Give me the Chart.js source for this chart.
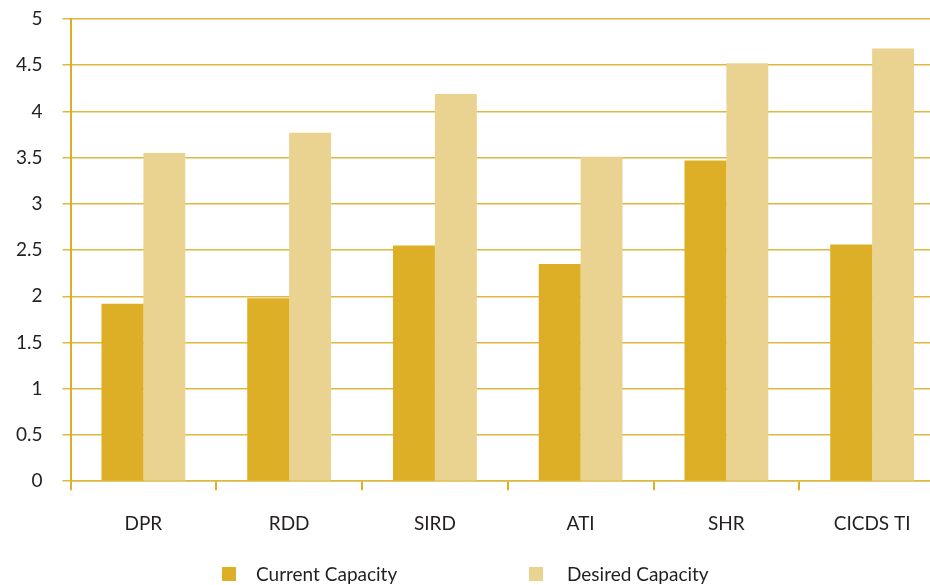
<!DOCTYPE html>
<html>
<head>
<meta charset="utf-8">
<script src="https://cdn.jsdelivr.net/npm/chart.js@4.4.1/dist/chart.umd.min.js"></script>
<style>
  html, body { margin: 0; padding: 0; background: #fff; overflow: hidden; }
  #wrap { width: 960px; height: 600px; }
</style>
</head>
<body>
<div id="wrap"><canvas id="grafico" width="960" height="600"></canvas></div>
<script>
const categorias = ['DPR', 'RDD', 'SIRD', 'ATI', 'SHR', 'CICDS TI'];
const atual = [1.92, 1.98, 2.55, 2.35, 3.47, 2.56];
const desejada = [3.55, 3.77, 4.19, 3.51, 4.52, 4.68];
const nomesSeries = ['Current Capacity', 'Desired Capacity'];
const ticksY = [0, 0.5, 1, 1.5, 2, 2.5, 3, 3.5, 4, 4.5, 5];

const ouro = '#DDAF27';
const ouroClaro = '#EAD290';
const linha = '#DFB840';
const texto = '#231F20';
const fonte = 'Lato, sans-serif';

Chart.defaults.font.family = fonte;
Chart.defaults.font.size = 19;
Chart.defaults.color = texto;

// legenda desenhada a mao, com o espacamento do original
const legendaManual = {
    id: 'legendaManual',
    afterDraw(chart) {
        const c = chart.ctx;
        const posicoes = [222, 529];
        const y = 574;
        c.save();
        c.font = '19px ' + fonte;
        c.textBaseline = 'middle';
        c.fillStyle = texto;
        chart.data.datasets.forEach((ds, i) => {
            const x = posicoes[i];
            c.fillStyle = ds.backgroundColor;
            c.fillRect(x, y - 7, 14, 14);
            c.fillStyle = texto;
            c.fillText(ds.label, x + 34 + i * 4, y + 1);
        });
        c.restore();
    }
};

const ctx = document.getElementById('grafico');

const grafico = new Chart(ctx, {
    type: 'bar',
    data: {
        labels: categorias,
        datasets: [{
            label: nomesSeries[0],
            data: atual,
            backgroundColor: ouro,
            borderWidth: 0
        }, {
            label: nomesSeries[1],
            data: desejada,
            backgroundColor: ouroClaro,
            borderWidth: 0
        }]
    },
    options: {
        responsive: false,
        animation: false,
        layout: {
            padding: { left: -4, right: 15, top: 19, bottom: 43 }
        },
        datasets: {
            bar: { barPercentage: 1, categoryPercentage: 0.575 }
        },
        scales: {
            x: {
                grid: {
                    display: true,
                    drawOnChartArea: false,
                    color: ouro,
                    lineWidth: 2,
                    tickLength: 9
                },
                border: { display: true, color: linha, width: 1.5 },
                ticks: { padding: 22, color: texto }
            },
            y: {
                min: 0,
                max: 5,
                afterBuildTicks: (eixo) => {
                    eixo.ticks = ticksY.map(v => ({ value: v }));
                },
                afterFit: (eixo) => {
                    eixo.paddingTop = 0;
                },
                grid: {
                    color: linha,
                    lineWidth: 1.5,
                    tickLength: 8
                },
                border: { display: true, color: ouro, width: 2 },
                ticks: {
                    padding: 20,
                    color: texto,
                    callback: (v) => String(v)
                }
            }
        },
        plugins: {
            legend: { display: false },
            tooltip: { enabled: false }
        }
    },
    plugins: [legendaManual]
});
</script>
</body>
</html>
